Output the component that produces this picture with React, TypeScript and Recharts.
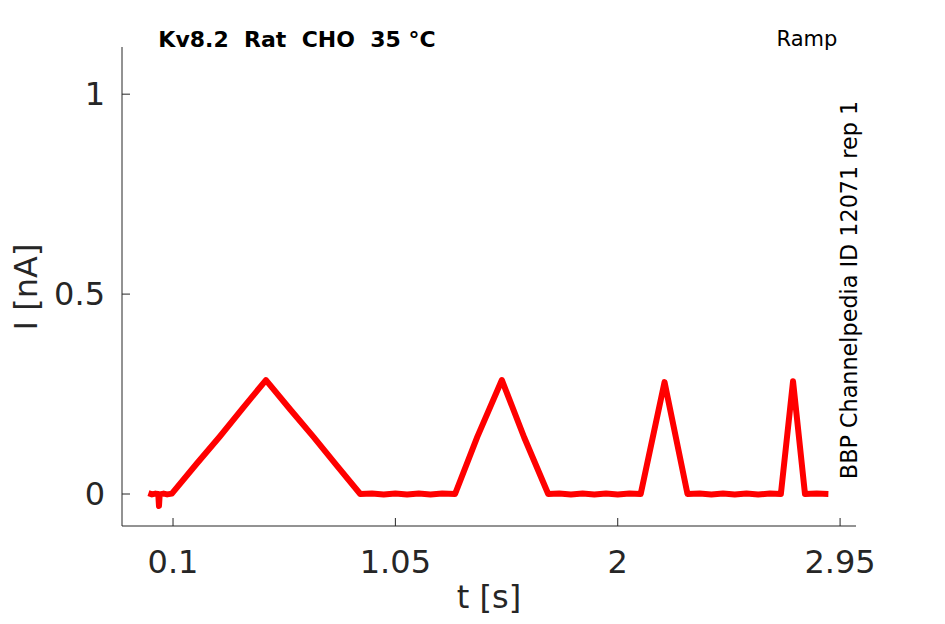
import React from "react";
import { LineChart, Line, XAxis, YAxis } from "recharts";

// time [s] and current [nA]
const timeS = [
  -0.005, 0.01, 0.025, 0.037, 0.04, 0.043, 0.06, 0.075, 0.095,
  0.2, 0.3, 0.4, 0.497,
  0.6, 0.7, 0.8, 0.9,
  0.95, 1.0, 1.05, 1.1, 1.15, 1.2, 1.25, 1.305,
  1.4, 1.505,
  1.6, 1.703,
  1.75, 1.8, 1.85, 1.9, 1.95, 2.0, 2.05, 2.098,
  2.2, 2.298,
  2.35, 2.4, 2.45, 2.5, 2.55, 2.6, 2.65, 2.697,
  2.749, 2.8,
  2.85, 2.9,
];
const currentNA = [
  0.002, -0.001, 0.001, 0.0, -0.03, -0.001, 0.001, -0.001, 0.001,
  0.075, 0.144, 0.216, 0.285,
  0.212, 0.143, 0.071, 0.0,
  0.001, -0.001, 0.001, -0.001, 0.001, -0.001, 0.001, 0.0,
  0.143, 0.285,
  0.142, 0.0,
  0.001, -0.001, 0.001, -0.001, 0.001, -0.001, 0.001, 0.0,
  0.28, 0.0,
  0.001, -0.001, 0.001, -0.001, 0.001, -0.001, 0.001, 0.0,
  0.282, 0.0,
  0.001, 0.0,
];

const xTicks = [0.1, 1.05, 2, 2.95];
const yTicks = [0, 0.5, 1];

const title = "Kv8.2  Rat  CHO  35 °C";
const protocol = "Ramp";
const sourceNote = "BBP Channelpedia ID 12071 rep 1";

const data = timeS.map((t, i) => ({ t, i: currentNA[i] }));

const INK = "#262626";
const FONT = "DejaVu Sans";

const XTick = (props: any) => {
  const { x, y, payload } = props;
  return (
    <g>
      <line x1={x} x2={x} y1={y} y2={y - 8} stroke={INK} strokeWidth={1} />
      <text x={x} y={y + 47} textAnchor="middle" fill={INK} fontSize={32} fontFamily={FONT}>
        {String(payload.value)}
      </text>
    </g>
  );
};

const YTick = (props: any) => {
  const { x, y, payload } = props;
  return (
    <g>
      <line x1={x} x2={x + 8} y1={y} y2={y} stroke={INK} strokeWidth={1} />
      <text x={x - 17} y={y + 11} textAnchor="end" fill={INK} fontSize={32} fontFamily={FONT}>
        {String(payload.value)}
      </text>
    </g>
  );
};

export default function App() {
  const W = 937;
  const H = 616;
  return (
    <div style={{ position: "relative", width: W, height: H }}>
      <LineChart
        width={W}
        height={H}
        data={data}
        margin={{ top: 39, right: 89, bottom: 0, left: 0 }}
      >
        <XAxis
          type="number"
          dataKey="t"
          domain={[-0.118, 3.018]}
          ticks={xTicks}
          allowDataOverflow
          height={98}
          tickSize={0}
          tickMargin={0}
          tickLine={false}
          tick={<XTick />}
          axisLine={{ stroke: INK, strokeWidth: 1 }}
          label={{
            value: "t [s]",
            position: "insideBottom",
            offset: 16,
            fill: INK,
            fontSize: 32,
            fontFamily: FONT,
          }}
        />
        <YAxis
          type="number"
          domain={[-0.08, 1.118]}
          ticks={yTicks}
          allowDataOverflow
          width={114}
          tickSize={0}
          tickMargin={0}
          tickLine={false}
          tick={<YTick />}
          axisLine={{ stroke: INK, strokeWidth: 1 }}
        />
        <Line
          type="linear"
          dataKey="i"
          stroke="#ff0000"
          strokeWidth={6}
          strokeLinejoin="round"
          dot={false}
          isAnimationActive={false}
        />
      </LineChart>
      <svg
        width={W}
        height={H}
        style={{ position: "absolute", left: 0, top: 0, pointerEvents: "none" }}
      >
        <text
          x={289}
          y={39}
          textAnchor="middle"
          fontSize={22}
          fontWeight="bold"
          fontFamily={FONT}
          fill="#000"
          style={{ whiteSpace: "pre" }}
        >
          {title}
        </text>
        <text x={799} y={38} textAnchor="middle" fontSize={21} fontFamily={FONT} fill="#000">
          {protocol}
        </text>
        <text
          transform="translate(849,282) rotate(-90)"
          textAnchor="middle"
          fontSize={22.3}
          fontFamily={FONT}
          fill="#000"
        >
          {sourceNote}
        </text>
        <text
          transform="translate(29,279) rotate(-90)"
          textAnchor="middle"
          fontSize={32}
          fontFamily={FONT}
          fill={INK}
        >
          I [nA]
        </text>
      </svg>
    </div>
  );
}
